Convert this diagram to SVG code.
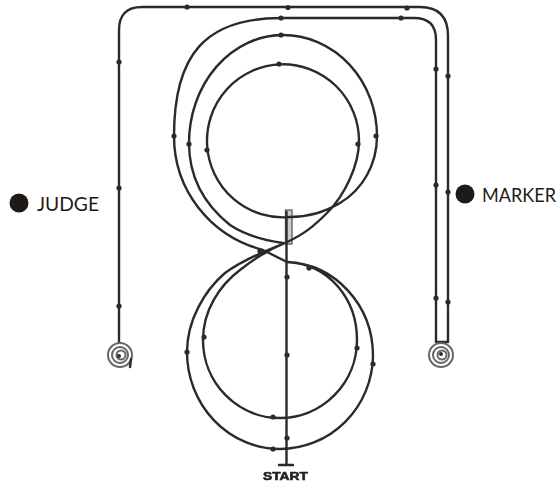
<svg xmlns="http://www.w3.org/2000/svg" width="560" height="483" viewBox="0 0 560 483">
<style>
.t{fill:none;stroke:#2b2b2b;stroke-width:2.4;stroke-linecap:round;stroke-linejoin:round}
.d{fill:#2b2b2b}
.l{font-family:"Lato","Liberation Sans",sans-serif;font-size:20px;font-weight:400;fill:#1f1a17}
.s{fill:none;stroke:#666;stroke-width:2}
</style>
<defs><filter id="b" x="-5%" y="-5%" width="110%" height="110%"><feGaussianBlur stdDeviation="0.5"/></filter></defs>
<rect width="560" height="483" fill="#fff"/>
<g id="connectors" filter="url(#b)">
<rect x="285.500" y="210" width="6.500" height="34" fill="#ccc" stroke="#666" stroke-width="1.4"/>
<path class="t" d="M119 342V30Q119 7 142 7H420Q448 7 448 36V342H436V40Q436 18 414 18H281C205 18 174 55 174 136C174 190 210 236 263 250L287 262"/>
<path class="t" d="M283 243C262 240 245 235 230 225C205 205 189 178 189 143A94 108 0 0 1 283 35A94 101 0 0 1 377 136C377 165 362 190 340 203C325 212 308 217 290 217A76 76.500 0 1 1 359 141C359 165 345 195 327 213C315 225 305 234 285 243C262 252 240 262 225 273C205 290 187 320 187 352A93 97 0 0 0 280 449A93 94.500 0 0 0 373 356C373 305 335 264 287 262C330 264 357 300 357 340A77 78 0 0 1 280 418A77 78 0 0 1 203 340C203 310 220 285 240 270C255 258 268 250 285 243"/>
<path class="t" d="M286.500 212V465M279 465H293"/>
<g class="d">
<circle cx="187" cy="7" r="2.600"/><circle cx="288" cy="7.500" r="2.600"/><circle cx="407" cy="8" r="2.600"/><circle cx="281" cy="18" r="2.600"/><circle cx="401" cy="18" r="2.600"/><circle cx="281" cy="35" r="2.600"/><circle cx="279" cy="64" r="2.600"/><circle cx="119" cy="62" r="2.600"/><circle cx="119" cy="188" r="2.600"/><circle cx="119" cy="306" r="2.600"/><circle cx="174" cy="136" r="2.600"/><circle cx="189" cy="144" r="2.600"/><circle cx="207" cy="150" r="2.600"/><circle cx="358" cy="144" r="2.600"/><circle cx="376" cy="136" r="2.600"/><circle cx="436" cy="69" r="2.600"/><circle cx="448" cy="76" r="2.600"/><circle cx="436" cy="185" r="2.600"/><circle cx="448" cy="192" r="2.600"/><circle cx="436" cy="298" r="2.600"/><circle cx="448" cy="302" r="2.600"/><circle cx="287" cy="277" r="2.600"/><circle cx="287" cy="355" r="2.600"/><circle cx="287" cy="438" r="2.600"/><circle cx="273" cy="417" r="2.600"/><circle cx="273" cy="449" r="2.600"/><circle cx="187" cy="352" r="2.600"/><circle cx="204" cy="337" r="2.600"/><circle cx="357" cy="348" r="2.600"/><circle cx="373" cy="364" r="2.600"/><circle cx="309" cy="268" r="2.600"/><circle cx="260" cy="251" r="2.600"/>
</g>
</g>
<g id="spiral-left" filter="url(#b)">
<circle class="s" cx="120" cy="355" r="12"/><circle class="s" cx="120" cy="355" r="8"/><circle class="s" cx="121" cy="355" r="4.500"/><circle class="d" cx="119" cy="356" r="2"/>
<path class="t" d="M131 359L130 367"/>
</g>
<g id="spiral-right" filter="url(#b)">
<circle class="s" cx="441" cy="355" r="12"/><circle class="s" cx="441" cy="355" r="8"/><circle class="s" cx="442" cy="355" r="4.500"/><circle class="d" cx="441" cy="354" r="2"/>
</g>
<g id="judge">
<circle cx="19" cy="203" r="9.500" fill="#1f1a17"/>
<text class="l" x="37" y="211" textLength="62" lengthAdjust="spacingAndGlyphs">JUDGE</text>
</g>
<g id="marker">
<circle cx="465" cy="194" r="9.500" fill="#1f1a17"/>
<text class="l" x="482" y="202" textLength="74" lengthAdjust="spacingAndGlyphs">MARKER</text>
</g>
<g id="start" filter="url(#b)">
<text x="263" y="480" textLength="45" lengthAdjust="spacingAndGlyphs" style="font-family:'Liberation Sans',sans-serif;font-size:10px;font-weight:700;fill:#222;stroke:#222;stroke-width:.5">START</text>
</g>
</svg>
